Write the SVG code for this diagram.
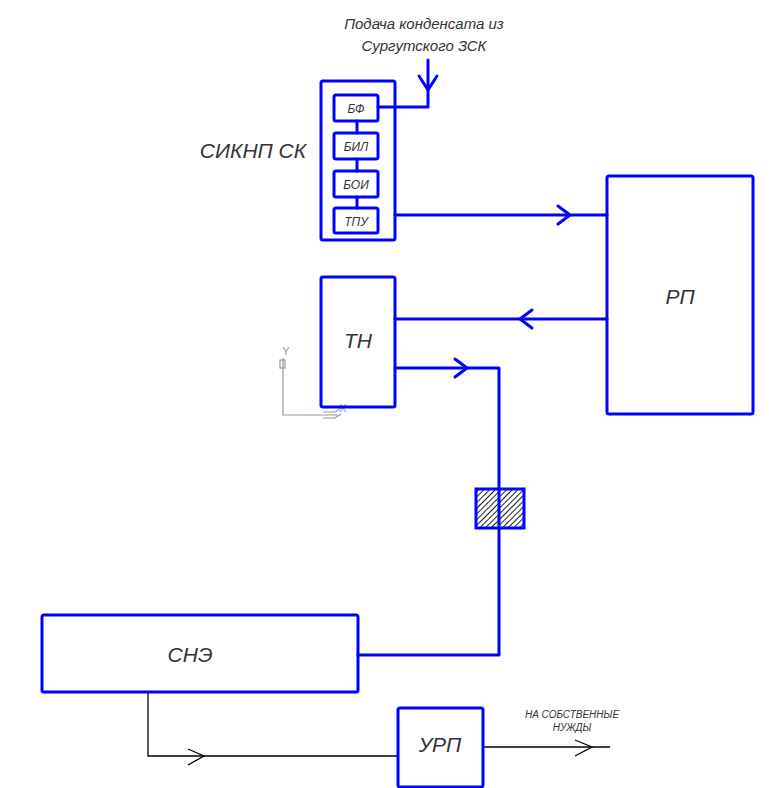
<svg xmlns="http://www.w3.org/2000/svg" width="769" height="788" viewBox="0 0 769 788">
<style>
.b{fill:none;stroke:#0000ff;stroke-width:3;stroke-linejoin:round;stroke-linecap:round}
.k{fill:none;stroke:#000;stroke-width:1.3}
.t{font-family:"Liberation Sans",Arial,sans-serif;font-style:italic;fill:#333;text-anchor:middle}
.g{fill:none;stroke:#999;stroke-width:1.2}
</style>
<defs>
<pattern id="h" width="4" height="4" patternUnits="userSpaceOnUse" patternTransform="rotate(45)">
<rect width="4" height="4" fill="#fff"/><line x1="0" y1="0" x2="0" y2="4" stroke="#222" stroke-width="2"/>
</pattern>
</defs>
<rect width="769" height="788" fill="#fff"/>
<g id="connectors">
<polyline class="b" points="378,107 428,107 428,60"/>
<polyline class="b" points="419,76 428,90 437,76"/>
<line class="b" x1="357" y1="121" x2="357" y2="133"/>
<line class="b" x1="357" y1="159" x2="357" y2="171"/>
<line class="b" x1="357" y1="197" x2="357" y2="208"/>
<line class="b" x1="395" y1="215" x2="607" y2="215"/>
<polyline class="b" points="558,206 570,215 558,224"/>
<line class="b" x1="395" y1="319" x2="607" y2="319"/>
<polyline class="b" points="532,310 520,319 532,328"/>
<polyline class="b" points="395,368 499,368 499,655 358,655"/>
<polyline class="b" points="455,359 467,368 455,377"/>
<polyline class="k" points="148,692 148,756 398,756"/>
<polyline class="k" points="188,749 204,756 188,765"/>
<line class="k" x1="483" y1="747" x2="610" y2="747"/>
<polyline class="k" points="575,740 592,747 575,756"/>
</g>
<g id="axes">
<polyline class="g" points="283,358 283,415 338,415"/>
<rect class="g" x="280" y="360" width="5" height="8"/>
<path class="g" d="M323,412 h12 l6,-4 M323,418 h12 l6,-4"/>
<text x="286" y="355" font-family="Liberation Sans,sans-serif" font-size="11" fill="#999" text-anchor="middle">Y</text>
<text x="343" y="412" font-family="Liberation Sans,sans-serif" font-size="11" fill="#999" text-anchor="middle">X</text>
</g>
<g id="sikn">
<rect class="b" x="321" y="81" width="74" height="159" rx="2"/>
<text class="t" x="253" y="158" font-size="21">СИКНП СК</text>
</g>
<g id="bf"><rect class="b" x="334" y="95" width="44" height="26" rx="2"/><text class="t" x="356" y="113" font-size="12">БФ</text></g>
<g id="bil"><rect class="b" x="334" y="133" width="44" height="26" rx="2"/><text class="t" x="356" y="151" font-size="12">БИЛ</text></g>
<g id="boi"><rect class="b" x="334" y="171" width="44" height="26" rx="2"/><text class="t" x="356" y="189" font-size="12">БОИ</text></g>
<g id="tpu"><rect class="b" x="334" y="208" width="44" height="25" rx="2"/><text class="t" x="356" y="226" font-size="12">ТПУ</text></g>
<g id="source">
<text class="t" x="424" y="29" font-size="15">Подача конденсата из</text>
<text class="t" x="424" y="51" font-size="15">Сургутского ЗСК</text>
</g>
<g id="rp"><rect class="b" x="607" y="176" width="146" height="238" rx="2"/><text class="t" x="680" y="304" font-size="21">РП</text></g>
<g id="tn"><rect class="b" x="321" y="277" width="74" height="130" rx="2"/><text class="t" x="358" y="348" font-size="21">ТН</text></g>
<g id="valve"><rect x="476" y="489" width="48" height="39" fill="url(#h)" stroke="#0000ff" stroke-width="3"/><line class="b" x1="499" y1="489" x2="499" y2="528"/></g>
<g id="sne"><rect class="b" x="42" y="615" width="316" height="77" rx="2"/><text class="t" x="190" y="662" font-size="21">СНЭ</text></g>
<g id="urp"><rect class="b" x="398" y="708" width="85" height="79" rx="2"/><text class="t" x="440" y="752" font-size="21">УРП</text></g>
<g id="own">
<text class="t" x="572" y="718" font-size="10">НА СОБСТВЕННЫЕ</text>
<text class="t" x="572" y="731" font-size="10">НУЖДЫ</text>
</g>
</svg>
